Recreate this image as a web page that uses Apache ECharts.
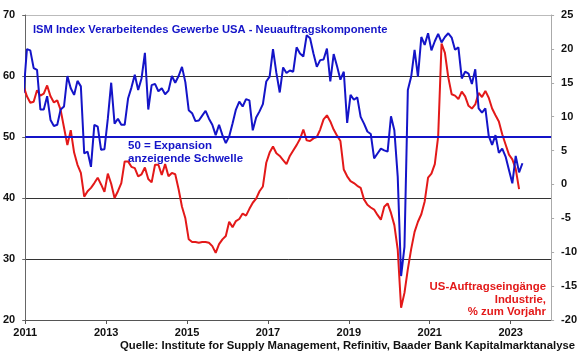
<!DOCTYPE html>
<html><head><meta charset="utf-8">
<script src="https://cdn.jsdelivr.net/npm/echarts@6/dist/echarts.min.js"></script>
<style>html,body{margin:0;padding:0;background:#fff}#c{width:580px;height:359px}</style>
</head><body><div id="c"></div>
<script>
// Monthly data, first value = Dec 2010 (clipped at the axis start)
var startYear = 2010, startMonth = 12;
var ismNewOrders = [57.2,
 64.4,64.2,61.3,61.0,54.5,54.5,56.7,52.8,51.8,52.0,54.5,55.0,
 60.0,58.0,56.9,59.2,58.3,47.3,47.6,45.1,52.0,51.7,47.9,48.0,
 53.0,58.9,52.2,53.0,52.0,52.0,56.3,58.1,60.2,57.7,59.6,63.8,
 54.5,58.5,58.7,57.5,58.0,57.0,57.6,60.0,58.9,60.0,61.5,59.0,
 54.4,53.9,52.6,52.7,53.5,54.3,53.0,52.0,50.3,52.0,50.3,49.0,
 50.1,52.2,54.5,55.8,55.0,56.2,56.0,51.1,53.2,54.2,55.4,59.1,
 59.9,64.4,60.5,57.3,61.4,60.5,60.9,60.7,64.7,63.7,63.2,66.7,
 66.2,63.7,61.5,62.6,62.7,64.5,59.1,63.6,61.6,59.4,60.7,52.3,
 56.9,56.1,56.5,53.3,52.2,50.9,50.5,46.5,47.3,48.1,47.8,47.6,
 53.4,51.1,43.5,27.2,32.0,57.7,59.9,64.3,59.9,66.4,65.1,67.0,
 64.2,65.7,66.9,65.5,66.4,67.0,66.3,64.3,64.7,59.6,60.7,60.4,
 58.7,61.1,54.7,54.0,54.7,50.2,48.7,50.3,47.4,48.1,46.8,44.6,
 42.4,46.9,44.2,45.7];
var factoryOrdersYoY = [14.5,
 13.0,12.05,12.2,13.9,13.1,13.4,14.6,13.0,12.1,12.4,11.0,8.4,
 5.8,8.0,4.7,2.9,1.7,-1.8,-1.0,-0.5,0.2,1.0,0.0,-1.1,
 1.6,0.1,-2.0,-1.0,0.2,3.4,3.4,2.6,2.4,1.2,1.5,2.5,
 0.8,0.3,2.9,2.9,1.4,3.0,1.2,1.7,1.5,-0.7,-3.3,-5.0,
 -8.1,-8.5,-8.5,-8.6,-8.5,-8.5,-8.6,-9.1,-10.1,-8.8,-8.1,-7.6,
 -5.5,-6.3,-5.4,-5.1,-4.3,-4.6,-3.6,-2.7,-2.1,-1.0,-0.3,3.2,
 4.7,5.6,4.6,4.2,3.6,3.0,4.2,5.0,5.8,6.7,8.1,6.5,
 6.4,6.8,7.0,8.1,9.6,10.2,9.3,8.1,7.2,6.4,2.2,1.2,
 0.5,0.2,-0.2,-0.5,-2.2,-3.0,-3.4,-3.7,-4.5,-5.2,-3.3,-2.8,
 -4.2,-6.0,-9.6,-18.2,-16.0,-12.5,-9.5,-7.0,-5.5,-4.4,-2.5,1.0,
 1.6,3.0,7.1,20.8,19.4,15.8,13.3,13.1,12.6,13.7,13.0,11.6,
 11.2,11.8,13.5,12.9,13.8,12.8,11.2,10.2,9.3,7.4,5.9,4.4,
 3.7,2.3,-0.7];
var axisStartYear = 2011, axisEndYear = 2024, yearStep = 2;
var leftTicks = {min: 20, max: 70, step: 10};
var rightTicks = {min: -20, max: 25, step: 5};
var titleText = 'ISM Index Verarbeitendes Gewerbe USA - Neuauftragskomponente';
var thresholdValue = 50;
var thresholdText = '50 = Expansion\nanzeigende Schwelle';
var redText = 'US-Auftragseingänge\nIndustrie,\n% zum Vorjahr';
var sourceText = 'Quelle: Institute for Supply Management, Refinitiv, Baader Bank Kapitalmarktanalyse';

// x position = months since Jan of axisStartYear, at mid-month
function toPoints(arr) {
  var off = (startYear - axisStartYear) * 12 + (startMonth - 1);
  return arr.map(function (v, i) { return [off + i + 0.5, v]; });
}

var BLUE = '#1414c8', RED = '#e31919';
var FONT = 'Liberation Sans, Arial, sans-serif';
var chart = echarts.init(document.getElementById('c'), null, {renderer: 'canvas'});
chart.setOption({
  animation: false,
  backgroundColor: '#fff',
  title: {
    text: titleText, left: 28, top: 19,
    textStyle: {color: BLUE, fontSize: 11.2, fontWeight: 'bold', fontFamily: FONT}
  },
  grid: {left: 23, right: 27, top: 15, bottom: 39, containLabel: false},
  xAxis: {
    type: 'value', min: 0, max: (axisEndYear - axisStartYear) * 12, interval: yearStep * 12,
    axisLine: {onZero: false, lineStyle: {color: '#555', width: 1}},
    axisTick: {show: true, length: 4, lineStyle: {color: '#555'}},
    axisLabel: {margin: 7, color: '#111', fontSize: 11, fontWeight: 'bold', fontFamily: FONT,
      showMaxLabel: false,
      formatter: function (v) { return v >= (axisEndYear - axisStartYear) * 12 ? '' : String(axisStartYear + v / 12); }},
    splitLine: {show: false}
  },
  yAxis: [{
    type: 'value', position: 'left', min: leftTicks.min, max: leftTicks.max, interval: leftTicks.step,
    axisLine: {show: true, onZero: false, lineStyle: {color: '#666'}},
    axisTick: {show: true, length: 3, lineStyle: {color: '#666'}},
    axisLabel: {margin: 10, color: '#111', fontSize: 11, fontWeight: 'bold', fontFamily: FONT},
    splitLine: {show: true, lineStyle: {color: ['#333', '#333', '#333', '#333', '#333', '#bbb'], width: 1}}
  }, {
    type: 'value', position: 'right', min: rightTicks.min, max: rightTicks.max, interval: rightTicks.step,
    axisLine: {show: true, onZero: false, lineStyle: {color: '#aaa'}},
    axisTick: {show: true, length: 3, lineStyle: {color: '#aaa'}},
    axisLabel: {margin: 10, color: '#111', fontSize: 11, fontWeight: 'bold', fontFamily: FONT},
    splitLine: {show: false}
  }],
  series: [{
    name: 'ISM', type: 'line', yAxisIndex: 0, data: toPoints(ismNewOrders),
    showSymbol: false, symbol: 'none', clip: true,
    lineStyle: {color: BLUE, width: 2}, z: 3,
    markLine: {silent: true, symbol: 'none', label: {show: false},
      lineStyle: {color: BLUE, width: 2, type: 'solid'}, data: [{yAxis: thresholdValue}]}
  }, {
    name: 'Orders', type: 'line', yAxisIndex: 1, data: toPoints(factoryOrdersYoY),
    showSymbol: false, symbol: 'none', clip: true,
    lineStyle: {color: RED, width: 2}, z: 2
  }],
  graphic: [{
    type: 'text', left: 128, top: 139,
    style: {text: thresholdText, fill: BLUE, font: 'bold 11.5px ' + FONT, lineHeight: 13}
  }, {
    type: 'text', right: 34, top: 281,
    style: {text: redText, fill: RED, font: 'bold 11.4px ' + FONT, lineHeight: 12.5, textAlign: 'right'}
  }, {
    type: 'text', right: 5, top: 340,
    style: {text: sourceText, fill: '#111', font: 'bold 11.3px ' + FONT}
  }]
});
</script></body></html>
